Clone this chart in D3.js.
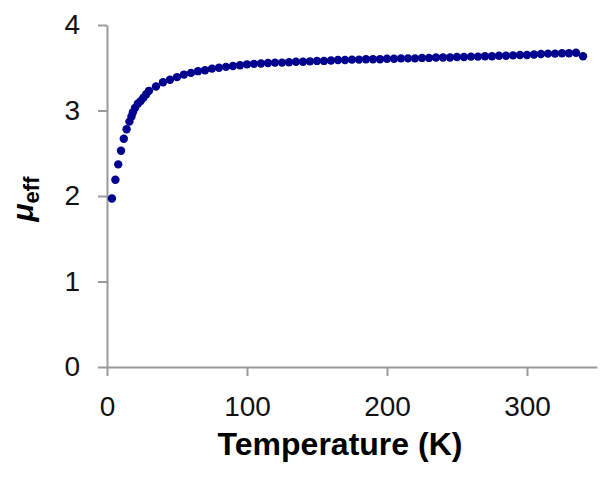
<!DOCTYPE html>
<html>
<head>
<meta charset="utf-8">
<script src="https://cdn.jsdelivr.net/npm/d3@7"></script>
<style>
  body { margin: 0; background: #fff; }
  text { font-family: "Liberation Sans", Arial, sans-serif; }
</style>
</head>
<body>
<div class="chart"></div>
<script>
// temperature (K) and effective moment
var temps = [3.5, 6, 8, 10, 12, 14, 16, 17.5, 18.5, 20, 22, 24, 26, 28, 30,
  35, 40, 45, 50, 55, 60, 65, 70, 75, 80, 85, 90, 95, 100,
  105, 110, 115, 120, 125, 130, 135, 140, 145, 150, 155, 160, 165, 170, 175, 180,
  185, 190, 195, 200, 205, 210, 215, 220, 225, 230, 235, 240, 245, 250, 255, 260,
  265, 270, 275, 280, 285, 290, 295, 300, 305, 310, 315, 320, 325, 330, 335, 340]
var mu = [1.97, 2.19, 2.37, 2.53, 2.67, 2.78, 2.87, 2.93, 2.98, 3.03, 3.08, 3.11, 3.15, 3.19, 3.23,
  3.28, 3.33, 3.36, 3.39, 3.42, 3.44, 3.46, 3.47, 3.49, 3.50, 3.51, 3.52, 3.53, 3.54,
  3.545, 3.55, 3.555, 3.56, 3.56, 3.565, 3.57, 3.57, 3.575, 3.58, 3.58, 3.585, 3.59, 3.59, 3.595, 3.595,
  3.60, 3.60, 3.60, 3.605, 3.605, 3.61, 3.61, 3.61, 3.615, 3.615, 3.62, 3.62, 3.62, 3.625, 3.625, 3.63,
  3.63, 3.635, 3.635, 3.64, 3.64, 3.645, 3.65, 3.65, 3.655, 3.66, 3.665, 3.665, 3.67, 3.67, 3.675, 3.635]
var xTicks = [0, 100, 200, 300]
var yTicks = [0, 1, 2, 3, 4]

var margin = {top: 25, right: 13, bottom: 110, left: 107},
width = 610 - margin.left - margin.right,
height = 477 - margin.top - margin.bottom;

var axisColor = '#9a9a9a'

var data = temps.map(function(t, i) { return {t: t, mu: mu[i]} })

var svg = d3.select('.chart')
  .append('svg')
    .attr('width', 610)
    .attr('height', 477)
  .append('g')
    .attr('transform', 'translate(' + margin.left + ',' + margin.top + ')');

var x = d3.scaleLinear()
  .domain([0, 350])
  .range([0, width]);

var y = d3.scaleLinear()
  .domain([0, 4])
  .range([height, 0]);

// x axis
var xAxis = svg.append('g')
  .attr('transform', 'translate(0,' + height + ')')
  .call(d3.axisBottom(x).tickValues(xTicks).tickSize(9).tickPadding(20).tickSizeOuter(0))
xAxis.select('.domain').attr('stroke', axisColor).attr('stroke-width', 2)
xAxis.selectAll('line').attr('stroke', axisColor).attr('stroke-width', 2)
xAxis.selectAll('text').attr('font-size', '28px').attr('fill', '#111')
  .attr('font-family', '"Liberation Sans", Arial, sans-serif')

// y axis
var yAxis = svg.append('g')
  .call(d3.axisLeft(y).tickValues(yTicks).tickFormat(d3.format('d')).tickSize(9).tickPadding(18).tickSizeOuter(0))
yAxis.select('.domain').attr('stroke', axisColor).attr('stroke-width', 2)
yAxis.selectAll('line').attr('stroke', axisColor).attr('stroke-width', 2)
yAxis.selectAll('text').attr('font-size', '28px').attr('fill', '#111')
  .attr('font-family', '"Liberation Sans", Arial, sans-serif')

// points
svg.selectAll('.pt')
  .data(data)
  .enter().append('circle')
    .attr('class', 'pt')
    .attr('cx', function(d) { return x(d.t) })
    .attr('cy', function(d) { return y(d.mu) })
    .attr('r', 4.2)
    .attr('fill', '#00008f')

// x label
svg.append('text')
  .attr('x', x(175) - 12)
  .attr('y', height + 88)
  .attr('text-anchor', 'middle')
  .attr('font-size', '32px')
  .attr('font-weight', 'bold')
  .text('Temperature (K)')

// y label
var yl = svg.append('text')
  .attr('transform', 'translate(' + (-74) + ',' + (y(2) + 3) + ') rotate(-90)')
  .attr('text-anchor', 'middle')
  .attr('font-weight', 'bold')
yl.append('tspan').attr('font-size', '30px').attr('font-style', 'italic').text('μ')
yl.append('tspan').attr('font-size', '22px').attr('dy', 6).text('eff')
</script>
</body>
</html>
